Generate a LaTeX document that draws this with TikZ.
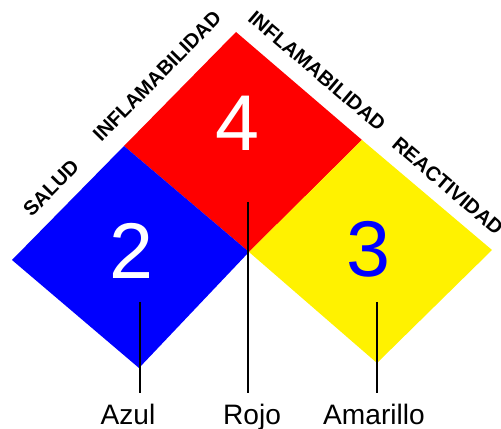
\documentclass[tikz,border=0pt]{standalone}
\usepackage{fontspec}
\setmainfont{Liberation Sans}
\begin{document}
\begin{tikzpicture}[x=0.02cm, y=-0.02cm,
  cifra/.style={font=\fontsize{45}{45}\selectfont, text=#1, inner sep=0pt},
  eje/.style={font=\fontsize{11.5}{12}\selectfont\bfseries, inner sep=0pt},
  nombre/.style={font=\fontsize{16}{18}\selectfont, inner sep=0pt, anchor=base},
  linea/.style={line width=1.1pt}
]
  \useasboundingbox (0,0) rectangle (501,429);

  %-- Vértices de los rombos
  \coordinate (rt) at (236,32);
  \coordinate (bt) at (124,146);
  \coordinate (yt) at (362,140);
  \coordinate (c)  at (249,252);
  \coordinate (bl) at (12,260);
  \coordinate (bb) at (139,368);
  \coordinate (yr) at (492,250);
  \coordinate (yb) at (377,363);

  %-- Rombos
  \fill[red]    (rt) -- (yt) -- (c)  -- (bt) -- cycle;
  \fill[blue]   (bt) -- (c)  -- (bb) -- (bl) -- cycle;
  \fill[yellow] (yt) -- (yr) -- (yb) -- (c)  -- cycle;

  %-- Cifras
  \node[cifra=white] (n4) at (237,123) {4};
  \node[cifra=white] (n2) at (131,251) {2};
  \node[cifra=blue]  (n3) at (368,249) {3};

  %-- Textos en diagonal
  \node[eje, rotate=45.5]  (salud) at (51,188) {SALUD};
  \node[eje, rotate=45.5]  (infl)  at (157,76) {INFLAMABILIDAD};
  \node[eje, rotate=-40.5] (infr)  at (317,71) {INFLAMABILIDAD};
  \node[eje, rotate=-40.5, anchor=west] (reac) at (395,141) {REACTIVIDAD};

  %-- Colores
  \node[nombre] (azul)  at (128,424) {Azul};
  \node[nombre] (rojo)  at (252,424) {Rojo};
  \node[nombre] (amar)  at (374,424) {Amarillo};

  %-- Líneas de referencia
  \coordinate (azulsup) at (140,302);
  \coordinate (azulinf) at (140,393);
  \coordinate (rojosup) at (248,202);
  \coordinate (rojoinf) at (248,393);
  \coordinate (amarsup) at (377,302);
  \coordinate (amarinf) at (377,393);
  \draw[linea] (azulsup) -- (azulinf);
  \draw[linea] (rojosup) -- (rojoinf);
  \draw[linea] (amarsup) -- (amarinf);
\end{tikzpicture}
\end{document}
